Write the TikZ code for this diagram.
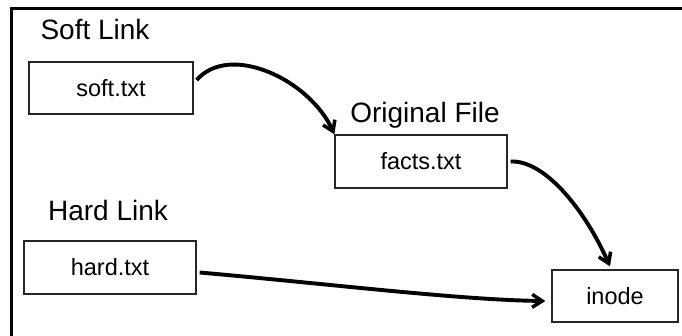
\documentclass[tikz,border=0pt]{standalone}
\usepackage{fontspec}
\setmainfont{Liberation Sans}
\usetikzlibrary{arrows.meta}
\begin{document}
\begin{tikzpicture}[x=1pt,y=-1pt,
  filebox/.style={draw=black!85, line width=1.3pt, inner sep=0pt, font=\fontsize{23.5}{27}\selectfont},
  grouplabel/.style={anchor=base, inner sep=0pt, font=\fontsize{28}{32}\selectfont},
  link/.style={line width=3.9pt, -{Straight Barb[length=10pt,width=13pt,line width=3.5pt]}},
  frameline/.style={line width=3pt}]
\useasboundingbox (0,0) rectangle (682,335);
\draw[frameline] (11,336) -- (11,8) -- (683,8);

\node[filebox, minimum width=164pt, minimum height=52pt] (soft) at (111,88) {soft.txt};
\node[filebox, minimum width=172pt, minimum height=53pt] (facts) at (421,161.5) {facts.txt};
\node[filebox, minimum width=172pt, minimum height=53pt] (hard) at (110,267.5) {hard.txt};
\node[filebox, minimum width=126pt, minimum height=52pt] (inode) at (615,296) {inode};

\node[grouplabel] (softlbl) at (95,39.5) {Soft Link};
\node[grouplabel] (origlbl) at (425,122.5) {Original File};
\node[grouplabel] (hardlbl) at (108,220.7) {Hard Link};

\draw[link] ([xshift=3pt,yshift=8pt]soft.east) .. controls (230,42) and (310,80) .. (facts.north west);
\draw[link] ([xshift=3pt]facts.east) .. controls (545,160) and (585,210) .. ([xshift=-5pt,yshift=3pt]inode.north);
\draw[link] ([xshift=3pt,yshift=-5pt]hard.east) .. controls (330,284) and (460,300) .. ([xshift=-6pt,yshift=-5pt]inode.west);
\end{tikzpicture}
\end{document}
